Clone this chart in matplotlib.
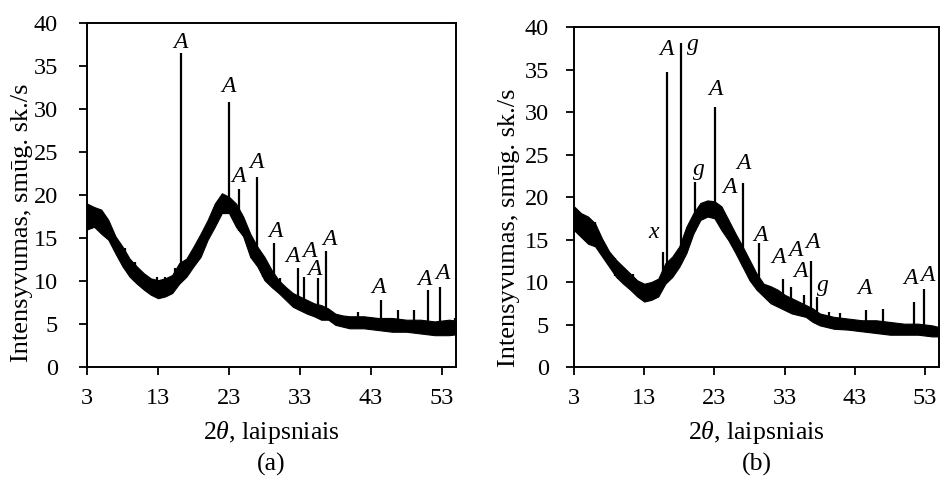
import numpy as np
import matplotlib
matplotlib.use("Agg")
import matplotlib.pyplot as plt

plt.rcParams['font.family'] = ['Liberation Serif', 'DejaVu Serif']
plt.rcParams['mathtext.fontset'] = 'custom'
plt.rcParams['mathtext.rm'] = 'Liberation Serif'
plt.rcParams['mathtext.it'] = 'Liberation Serif:italic'

# background band (upper / lower edge of the noisy trace)
bg_x = [3, 4, 5, 6, 7, 8, 9, 10, 11, 12, 13, 14, 15, 16, 17, 18, 19, 20, 21, 22, 23, 24, 25,
        26, 27, 28, 29, 30, 31, 32, 33, 34, 35, 36, 37, 38, 39, 40, 42, 44, 46, 48, 50, 52, 54, 55]

a_upper = [19.0, 18.6, 18.3, 17.1, 15.2, 14.0, 12.6, 11.7, 10.9, 10.3, 10.1, 10.3, 10.7, 12.1,
           12.6, 14.0, 15.5, 17.1, 19.0, 20.2, 19.8, 19.0, 17.5, 15.5, 14.0, 12.8, 11.3, 10.1,
           9.3, 8.6, 8.2, 7.8, 7.4, 7.2, 6.8, 6.2, 6.0, 5.9, 5.9, 5.7, 5.7, 5.5, 5.5, 5.3, 5.5, 5.4]
a_lower = [16.0, 16.3, 15.5, 14.8, 13.2, 11.7, 10.5, 9.7, 9.0, 8.4, 8.0, 8.2, 8.6, 9.7,
           10.5, 11.7, 12.8, 14.8, 16.3, 17.9, 17.9, 16.3, 15.2, 12.8, 11.7, 10.1, 9.3, 8.6,
           7.8, 7.0, 6.6, 6.2, 5.9, 5.5, 5.5, 4.9, 4.7, 4.5, 4.5, 4.3, 4.1, 4.1, 3.9, 3.7, 3.7, 3.8]

b_upper = [18.9, 18.1, 17.7, 16.9, 15.1, 13.6, 12.6, 11.8, 11.0, 10.2, 9.8, 10.0, 10.4, 12.2,
           13.0, 14.2, 16.5, 18.1, 19.3, 19.6, 19.5, 18.9, 17.3, 15.7, 14.2, 12.6, 11.0, 9.8,
           9.5, 9.1, 8.5, 8.1, 7.7, 7.3, 6.9, 6.3, 6.1, 5.9, 5.7, 5.5, 5.5, 5.3, 5.1, 5.1, 4.9, 4.7]
b_lower = [16.1, 15.3, 14.5, 14.2, 13.0, 11.8, 10.6, 9.8, 9.1, 8.3, 7.7, 7.9, 8.3, 9.8,
           10.6, 11.8, 13.4, 15.7, 17.3, 17.7, 17.5, 16.1, 14.9, 13.4, 11.8, 10.2, 9.1, 8.3,
           7.5, 7.1, 6.7, 6.3, 6.1, 5.9, 5.3, 4.9, 4.7, 4.5, 4.4, 4.2, 4.0, 3.8, 3.8, 3.8, 3.6, 3.6]

# sharp reflections (labelled ones first, then small unlabelled spikes)
a_peak_x = [16.2, 23.0, 24.4, 26.9, 29.3, 32.7, 33.6, 35.5, 36.7, 44.4, 51.0, 52.7,
            27.8, 30.2, 41.2, 46.8, 49.1, 54.8, 8.3, 9.8, 12.8, 14.0, 15.4]
a_peak_top = [36.5, 30.8, 20.7, 22.1, 14.4, 11.5, 10.5, 10.3, 13.5, 7.8, 9.0, 9.3,
              12.8, 10.3, 6.4, 6.6, 6.6, 5.7, 13.8, 12.2, 10.5, 10.5, 11.5]

b_peak_x = [15.7, 16.25, 18.2, 20.2, 23.1, 27.0, 29.35, 32.8, 33.9, 35.8, 36.8, 37.6,
            44.6, 47.0, 51.4, 52.8, 6.0, 8.9, 11.4, 30.7, 39.3, 40.9]
b_peak_top = [13.5, 34.7, 38.1, 21.8, 30.6, 21.7, 14.6, 10.4, 9.4, 8.5, 12.5, 8.2,
              6.7, 6.8, 7.7, 9.2, 17.1, 12.8, 11.0, 9.5, 6.5, 6.3]

# phase labels
a_lab = ['A'] * 12
a_lab_x = [16.2, 23.0, 24.4, 26.9, 29.6, 31.9, 34.4, 35.1, 37.2, 44.1, 50.6, 53.1]
a_lab_y = [37.7, 32.6, 22.2, 23.8, 15.7, 12.9, 13.4, 11.3, 14.8, 9.3, 10.2, 10.9]

b_lab = ['A', 'g', 'A', 'g', 'A', 'A', 'x', 'A', 'A', 'A', 'A', 'A', 'g', 'A', 'A', 'A']
b_lab_x = [16.2, 19.9, 23.1, 20.8, 27.1, 25.2, 14.3, 29.5, 32.1, 34.5, 37.0, 35.2, 38.5, 44.3, 50.9, 53.3]
b_lab_y = [37.3, 37.9, 32.6, 23.2, 23.9, 21.1, 15.8, 15.5, 12.9, 13.7, 14.7, 11.2, 9.6, 9.2, 10.4, 10.8]

xticks = [3, 13, 23, 33, 43, 53]
yticks = [0, 5, 10, 15, 20, 25, 30, 35, 40]


def draw_panel(ax, upper, lower, px, ptop, labs, lx, ly, tag, ypad):
    ax.fill_between(bg_x, lower, upper, color='black', lw=0.8)
    base = np.interp(px, bg_x, lower)
    ax.vlines(px, base, ptop, color='black', lw=1.6)
    for t, x, y in zip(labs, lx, ly):
        ax.text(x, y, t, fontsize=17, style='italic', ha='center', va='center')
    ax.set_xlim(3, 55)
    ax.set_ylim(0, 40)
    ax.set_xticks(xticks)
    ax.set_yticks(yticks)
    ax.tick_params(direction='out', length=6, width=1.3, labelsize=17.5)
    ax.tick_params(axis='x', pad=9)
    ax.tick_params(axis='y', pad=ypad)
    for s in ax.spines.values():
        s.set_linewidth(1.4)
    ax.set_xlabel(r'2$\it{\theta}$, laipsniais' + '\n' + tag, fontsize=18.5, linespacing=1.4,
                  labelpad=7)
    ax.set_ylabel('Intensyvumas, smūg. sk./s', fontsize=19)


fig = plt.figure(figsize=(9.41, 4.78), dpi=100)
ax1 = fig.add_axes([0.0925, 0.2322, 0.3921, 0.7197])
ax2 = fig.add_axes([0.610, 0.2322, 0.388, 0.7113])

draw_panel(ax1, a_upper, a_lower, a_peak_x, a_peak_top, a_lab, a_lab_x, a_lab_y, '(a)', 15)
draw_panel(ax2, b_upper, b_lower, b_peak_x, b_peak_top, b_lab, b_lab_x, b_lab_y, '(b)', 12)
ax1.yaxis.set_label_coords(-0.146, 0.42)
ax2.yaxis.set_label_coords(-0.148, 0.41)

fig.savefig('out.png', dpi=100)
